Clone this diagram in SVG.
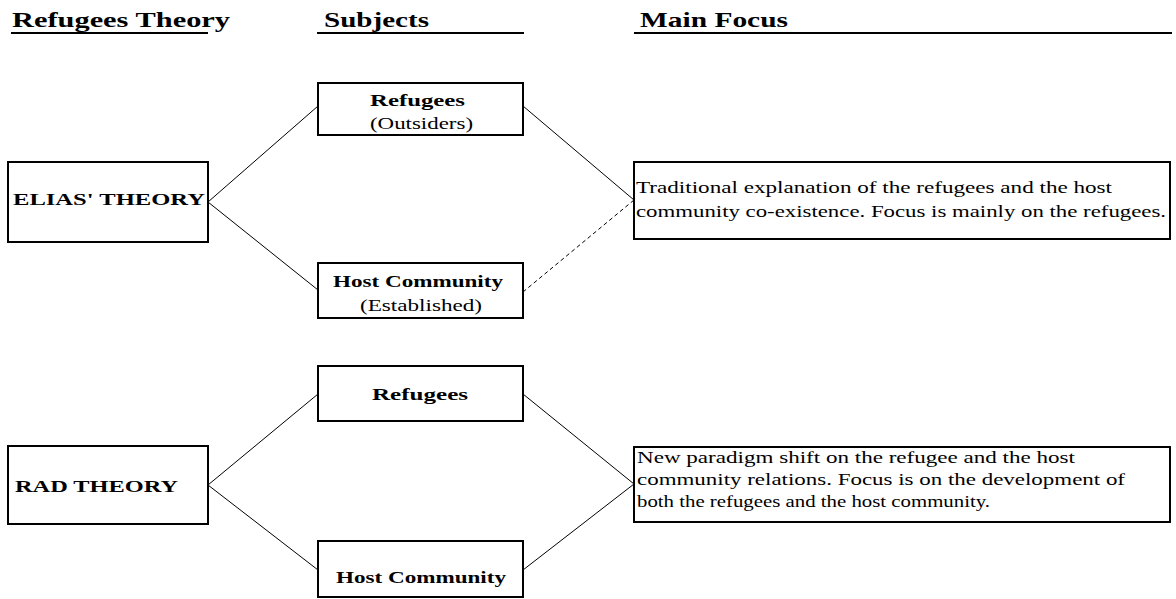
<svg xmlns="http://www.w3.org/2000/svg" width="1176" height="599" viewBox="0 0 1176 599">
<style>
.box{fill:#fff;stroke:#000;stroke-width:2}
.conn{stroke:#000;stroke-width:1;fill:none}
.dash{stroke-dasharray:4 3}
.ul{stroke:#000;stroke-width:2}
.hd{font-family:"Liberation Serif","Times New Roman",serif;font-weight:bold;font-size:21px}
.lb{font-family:"Liberation Serif","Times New Roman",serif;font-weight:bold;font-size:16px}
.tx{font-family:"Liberation Serif","Times New Roman",serif;font-size:16px}
</style>
<rect width="1176" height="599" fill="#fff"/>
<g id="headers">
<text class="hd" x="12" y="27" textLength="218" lengthAdjust="spacingAndGlyphs">Refugees Theory</text>
<line class="ul" x1="11" y1="33" x2="208" y2="33"/>
<text class="hd" x="324" y="27" textLength="105" lengthAdjust="spacingAndGlyphs">Subjects</text>
<line class="ul" x1="317" y1="33" x2="524" y2="33"/>
<text class="hd" x="640" y="27" textLength="148" lengthAdjust="spacingAndGlyphs">Main Focus</text>
<line class="ul" x1="634" y1="33" x2="1172" y2="33"/>
</g>
<g id="connectors">
<line class="conn" x1="208" y1="202" x2="318" y2="106"/>
<line class="conn" x1="208" y1="202" x2="318" y2="290"/>
<line class="conn" x1="523" y1="106" x2="634" y2="200"/>
<line class="conn dash" x1="523" y1="292" x2="634" y2="200"/>
<line class="conn" x1="208" y1="485" x2="318" y2="394"/>
<line class="conn" x1="208" y1="485" x2="318" y2="570"/>
<line class="conn" x1="523" y1="394" x2="634" y2="484"/>
<line class="conn" x1="523" y1="570" x2="634" y2="484"/>
</g>
<g id="elias">
<rect class="box" x="8" y="162" width="200" height="80"/>
<text class="lb" x="13" y="205" textLength="192" lengthAdjust="spacingAndGlyphs">ELIAS' THEORY</text>
</g>
<g id="refugees1">
<rect class="box" x="318" y="83" width="205" height="52"/>
<text class="lb" x="370" y="106" textLength="95" lengthAdjust="spacingAndGlyphs">Refugees</text>
<text class="tx" x="370" y="129" textLength="103" lengthAdjust="spacingAndGlyphs">(Outsiders)</text>
</g>
<g id="host1">
<rect class="box" x="318" y="263" width="205" height="55"/>
<text class="lb" x="333" y="287" textLength="170" lengthAdjust="spacingAndGlyphs">Host Community</text>
<text class="tx" x="360" y="311" textLength="122" lengthAdjust="spacingAndGlyphs">(Established)</text>
</g>
<g id="focus1">
<rect class="box" x="634" y="162" width="536" height="77"/>
<text class="tx" x="636" y="193" textLength="476" lengthAdjust="spacingAndGlyphs">Traditional explanation of the refugees and the host</text>
<text class="tx" x="636" y="217" textLength="530" lengthAdjust="spacingAndGlyphs">community co-existence. Focus is mainly on the refugees.</text>
</g>
<g id="rad">
<rect class="box" x="8" y="446" width="200" height="78"/>
<text class="lb" x="15" y="492" textLength="163" lengthAdjust="spacingAndGlyphs">RAD THEORY</text>
</g>
<g id="refugees2">
<rect class="box" x="318" y="366" width="205" height="55"/>
<text class="lb" x="372" y="400" textLength="96" lengthAdjust="spacingAndGlyphs">Refugees</text>
</g>
<g id="host2">
<rect class="box" x="318" y="541" width="205" height="56"/>
<text class="lb" x="336" y="583" textLength="170" lengthAdjust="spacingAndGlyphs">Host Community</text>
</g>
<g id="focus2">
<rect class="box" x="634" y="447" width="536" height="75"/>
<text class="tx" x="637" y="463" textLength="438" lengthAdjust="spacingAndGlyphs">New paradigm shift on the refugee and the host</text>
<text class="tx" x="637" y="485" textLength="488" lengthAdjust="spacingAndGlyphs">community relations. Focus is on the development of</text>
<text class="tx" x="637" y="507" textLength="353" lengthAdjust="spacingAndGlyphs">both the refugees and the host community.</text>
</g>
</svg>
